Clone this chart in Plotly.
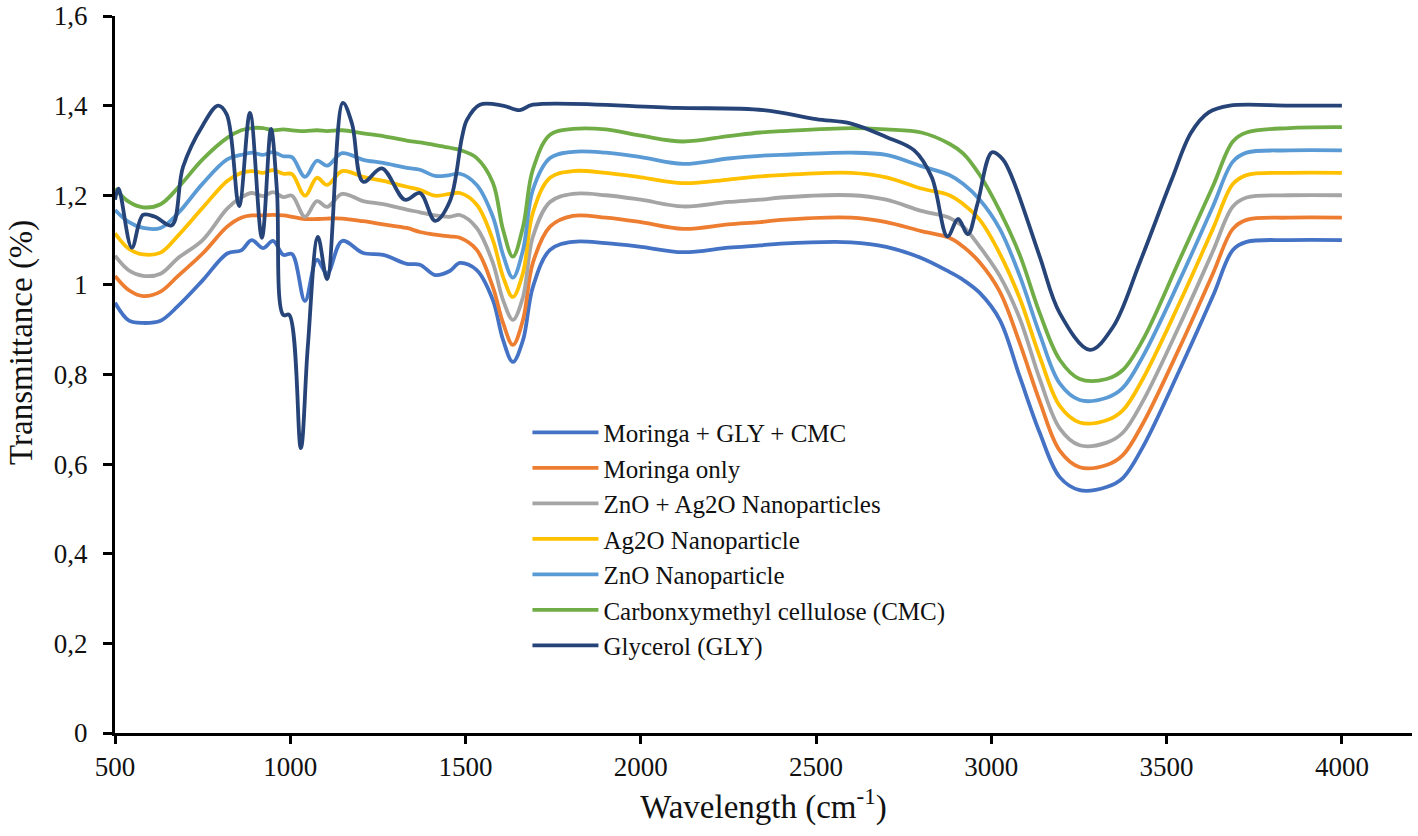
import plotly.graph_objects as go

# wavenumber grid for the six smooth spectra
wn = [500, 540, 580, 630, 680, 750, 820, 860, 890, 922, 951, 980, 1005, 1042, 1076, 1105, 1148, 1208, 1265, 1332, 1370, 1413, 1455,
      1484, 1532, 1578, 1607, 1635, 1664, 1692, 1741, 1806,
      1900, 2000, 2120, 2250, 2340, 2400, 2600, 2700,
      2800, 2880, 2920, 2967, 3024, 3081, 3138, 3195, 3252, 3329, 3375, 3432, 3537, 3632, 3689, 3728, 3850, 4000]

moringa_gly_cmc = [.96, .92, .915, .92, .953, 1.01, 1.07, 1.077, 1.10, 1.082, 1.098, 1.067, 1.069, .964, 1.056, 1.025, 1.098, 1.071, 1.067, 1.047, 1.045, 1.022, 1.031,
                   1.049, 1.033, .966, .877, .828, .877, .995, 1.078, 1.096,
                   1.093, 1.085, 1.073, 1.083, 1.088, 1.092, 1.095, 1.085,
                   1.06, 1.029, 1.011, .982, .922, .795, .67, .571, .542, .549, .569, .638, .81, .975, 1.078, 1.096, 1.10, 1.10]
moringa_only = [1.02, .988, .975, .985, 1.02, 1.07, 1.13, 1.15, 1.155, 1.155, 1.156, 1.155, 1.152, 1.147, 1.147, 1.148, 1.148, 1.142, 1.135, 1.127, 1.118, 1.112, 1.108,
                1.105, 1.078, .995, .915, .866, .922, 1.049, 1.13, 1.154,
                1.15, 1.14, 1.125, 1.135, 1.14, 1.145, 1.15, 1.14,
                1.12, 1.105, 1.085, 1.05, .985, .87, .74, .63, .593, .598, .62, .69, .86, 1.025, 1.125, 1.145, 1.15, 1.15]
zno_ag2o = [1.065, 1.032, 1.02, 1.025, 1.06, 1.10, 1.17, 1.195, 1.205, 1.198, 1.207, 1.196, 1.199, 1.152, 1.187, 1.174, 1.203, 1.187, 1.18, 1.168, 1.162, 1.155, 1.152,
            1.156, 1.127, 1.049, .966, .922, .973, 1.107, 1.185, 1.203,
            1.2, 1.19, 1.175, 1.185, 1.19, 1.195, 1.2, 1.19,
            1.165, 1.15, 1.13, 1.085, 1.02, .925, .79, .68, .642, .648, .67, .74, .91, 1.075, 1.175, 1.195, 1.2, 1.2]
ag2o = [1.115, 1.08, 1.068, 1.072, 1.11, 1.172, 1.232, 1.25, 1.254, 1.25, 1.256, 1.248, 1.247, 1.199, 1.239, 1.223, 1.254, 1.241, 1.232, 1.219, 1.212, 1.199, 1.203,
        1.205, 1.179, 1.10, 1.018, .973, 1.027, 1.161, 1.239, 1.254,
        1.25, 1.24, 1.227, 1.235, 1.242, 1.245, 1.25, 1.24,
        1.215, 1.2, 1.18, 1.145, 1.07, .97, .84, .73, .693, .698, .72, .79, .96, 1.125, 1.225, 1.245, 1.25, 1.25]
zno = [1.167, 1.14, 1.127, 1.127, 1.16, 1.226, 1.28, 1.29, 1.295, 1.29, 1.296, 1.287, 1.285, 1.241, 1.277, 1.266, 1.294, 1.279, 1.272, 1.261, 1.257, 1.243, 1.245,
       1.248, 1.223, 1.152, 1.067, 1.016, 1.078, 1.212, 1.283, 1.297,
       1.295, 1.285, 1.27, 1.282, 1.288, 1.29, 1.295, 1.29,
       1.265, 1.245, 1.225, 1.19, 1.125, 1.02, .89, .78, .743, .748, .77, .84, 1.01, 1.175, 1.275, 1.295, 1.30, 1.30]
cmc = [1.215, 1.185, 1.173, 1.18, 1.217, 1.28, 1.328, 1.345, 1.35, 1.35, 1.345, 1.347, 1.345, 1.343, 1.345, 1.343, 1.345, 1.338, 1.332, 1.322, 1.318, 1.312, 1.306,
       1.301, 1.283, 1.228, 1.123, 1.063, 1.13, 1.257, 1.335, 1.348,
       1.347, 1.333, 1.32, 1.332, 1.34, 1.343, 1.35, 1.347,
       1.34, 1.315, 1.293, 1.245, 1.165, 1.067, .937, .833, .79, .79, .81, .877, 1.056, 1.22, 1.32, 1.34, 1.35, 1.352]

# glycerol has many more sharp bands so it gets its own grid
gly_wn = [500, 510, 548, 580, 614, 662, 694, 751, 794, 819, 854, 885, 919, 945, 962, 980, 997, 1030, 1050, 1079, 1105,
          1150, 1176, 1208, 1261, 1327, 1370, 1413, 1455, 1490, 1504, 1541, 1606, 1655, 1692, 2100, 2350, 2500, 2600, 2700,
          2780, 2830, 2875, 2905, 2933, 2960, 3002, 3033, 3062, 3138, 3195, 3281, 3347, 3423, 3514, 3570, 3620, 3680, 3850, 4000]
glycerol = [1.19, 1.215, 1.083, 1.156, 1.152, 1.133, 1.263, 1.357, 1.40, 1.38, 1.176, 1.384, 1.105, 1.348, 1.21, .933, .933, .636, .862, 1.107, 1.013,
            1.406, 1.36, 1.23, 1.26, 1.19, 1.205, 1.143, 1.186, 1.33, 1.368, 1.402, 1.40, 1.39, 1.402, 1.395, 1.39, 1.37, 1.36, 1.33,
            1.30, 1.24, 1.108, 1.147, 1.113, 1.18, 1.296, 1.28, 1.234, 1.063, .937, .855, .906, 1.049, 1.234, 1.34, 1.385, 1.40, 1.40, 1.40]

y_ticks = [0, 0.2, 0.4, 0.6, 0.8, 1, 1.2, 1.4, 1.6]
y_labels = ['0', '0,2', '0,4', '0,6', '0,8', '1', '1,2', '1,4', '1,6']
x_ticks = [500, 1000, 1500, 2000, 2500, 3000, 3500, 4000]

series = [
    ('Moringa + GLY + CMC', wn, moringa_gly_cmc, '#4472C4'),
    ('Moringa only', wn, moringa_only, '#ED7D31'),
    ('ZnO + Ag2O Nanoparticles', wn, zno_ag2o, '#A5A5A5'),
    ('Ag2O Nanoparticle', wn, ag2o, '#FFC000'),
    ('ZnO Nanoparticle', wn, zno, '#5B9BD5'),
    ('Carbonxymethyl cellulose (CMC)', wn, cmc, '#70AD47'),
    ('Glycerol (GLY)', gly_wn, glycerol, '#264478'),
]

fig = go.Figure()
for name, x, y, color in series:
    fig.add_trace(go.Scatter(x=x, y=y, name=name, mode='lines', cliponaxis=False,
                             line=dict(color=color, width=3.8, shape='spline', smoothing=1.0)))

font = 'Liberation Serif'
fig.update_layout(
    width=1418, height=836,
    margin=dict(l=115, r=6, t=16, b=103, autoexpand=False),
    paper_bgcolor='white', plot_bgcolor='white',
    font=dict(family=font, color='#111111', size=27),
    legend=dict(x=0.318, y=0.451, xanchor='left', yanchor='top', bgcolor='rgba(0,0,0,0)',
                itemwidth=66, font=dict(size=25), tracegroupgap=0),
    xaxis=dict(range=[500, 4200], tickvals=x_ticks, ticks='outside', ticklen=8, tickwidth=2.5, tickcolor='black',
               showline=True, linecolor='black', linewidth=3, showgrid=False, zeroline=False,
               tickfont=dict(size=27), title=dict(text='Wavelength (cm<sup>-1</sup>)', font=dict(size=33), standoff=14)),
    yaxis=dict(range=[0, 1.6], tickvals=y_ticks, ticktext=y_labels, ticks='outside', ticklen=9, tickwidth=2.5, tickcolor='black',
               showline=True, linecolor='black', linewidth=3, showgrid=False, zeroline=False,
               tickfont=dict(size=27), ticklabelstandoff=10),
    # y title sits above the axis middle in the original, an axis title can't do that
    annotations=[dict(text='Transmittance (%)', textangle=-90, xref='paper', yref='paper', x=-0.0717, y=0.544,
                      xanchor='center', yanchor='middle', showarrow=False, font=dict(size=33))],
)

# drop the default body margin so the figure fills the window
fig.write_html("out.html", config=dict(displayModeBar=False), post_script="document.body.style.margin='0';")
